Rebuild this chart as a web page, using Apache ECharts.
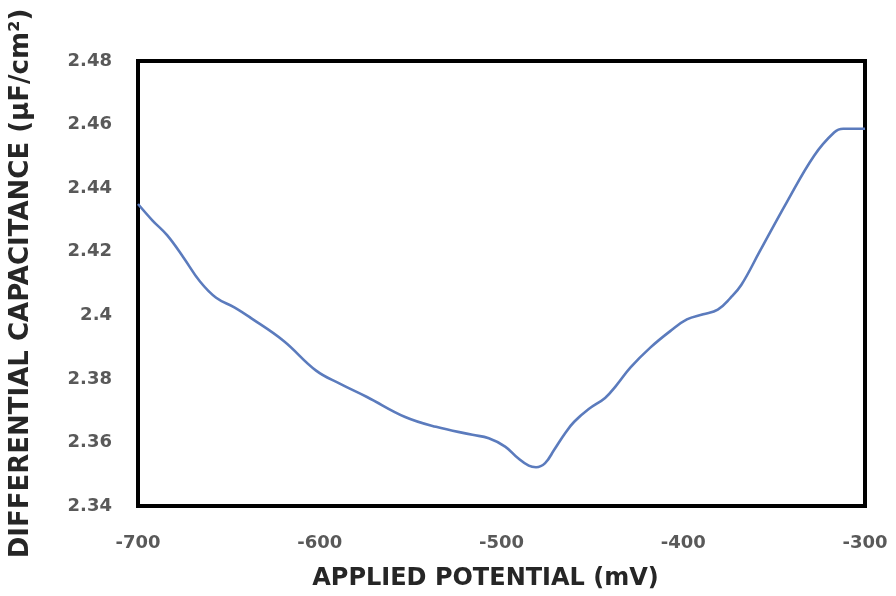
<!DOCTYPE html>
<html>
<head>
<meta charset="utf-8">
<script src="https://cdn.jsdelivr.net/npm/echarts@6/dist/echarts.min.js"></script>
<style>
  html, body { margin: 0; padding: 0; background: #fff; }
  #chart { width: 896px; height: 596px; }
</style>
</head>
<body>
<div id="chart"></div>
<script>
// Applied potential (mV) and measured differential capacitance (µF/cm²)
const potential = [
  -700, -692, -684, -675, -666, -657, -647, -638, -620, -602,
  -589, -574, -553, -536, -516, -507, -498, -491, -485, -481,
  -476, -471, -465, -460, -452, -443, -437, -429, -418, -407,
  -398, -389, -381, -374, -368, -358, -343, -328, -317, -312,
  -300
];
const capacitance = [
  2.435, 2.4298, 2.4252, 2.4182, 2.4107, 2.4055, 2.4025, 2.3992, 2.392, 2.3826,
  2.3785, 2.3743, 2.368, 2.3649, 2.3624, 2.3613, 2.3587, 2.3551, 2.3527, 2.3522,
  2.3535, 2.3577, 2.3629, 2.3665, 2.3705, 2.374, 2.3778, 2.3836, 2.3899, 2.3951,
  2.3987, 2.4003, 2.4018, 2.4055, 2.4096, 2.42, 2.4356, 2.4502, 2.4575, 2.4587,
  2.4587
];

const xAxisTitle = 'APPLIED POTENTIAL (mV)';
const yAxisTitle = 'DIFFERENTIAL CAPACITANCE (\u03BCF/cm\u00B2)';

const points = potential.map((p, i) => [p, capacitance[i]]);

const chart = echarts.init(document.getElementById('chart'), null, { renderer: 'canvas' });

const tickFont = {
  color: '#595959',
  fontFamily: 'DejaVu Sans',
  fontWeight: 'bold',
  fontSize: 18
};

chart.setOption({
  animation: false,
  backgroundColor: '#ffffff',
  grid: {
    left: 134, right: 31, top: 61, bottom: 86,
    show: true,
    borderColor: '#000000',
    borderWidth: 4,
    backgroundColor: 'transparent'
  },
  xAxis: {
    type: 'value',
    min: -700, max: -300, interval: 100,
    axisLine: { show: false },
    axisTick: { show: false },
    splitLine: { show: false },
    axisLabel: Object.assign({ margin: 28 }, tickFont),
    name: xAxisTitle,
    nameLocation: 'middle',
    nameGap: 61,
    nameTextStyle: {
      color: '#262626',
      fontFamily: 'DejaVu Sans',
      fontWeight: 'bold',
      fontSize: 24,
      padding: [0, 32, 0, 0]
    }
  },
  yAxis: {
    type: 'value',
    min: 2.34, max: 2.48, interval: 0.02,
    axisLine: { show: false },
    axisTick: { show: false },
    splitLine: { show: false },
    axisLabel: Object.assign({ margin: 26 }, tickFont),
    name: yAxisTitle,
    nameLocation: 'middle',
    nameGap: 104,
    nameTextStyle: {
      color: '#262626',
      fontFamily: 'DejaVu Sans',
      fontWeight: 'bold',
      fontSize: 26
    }
  },
  series: [{
    type: 'line',
    data: points,
    smooth: 0.4,
    showSymbol: false,
    lineStyle: { color: '#5B7BBD', width: 2.6 },
    clip: true
  }]
});
</script>
</body>
</html>
